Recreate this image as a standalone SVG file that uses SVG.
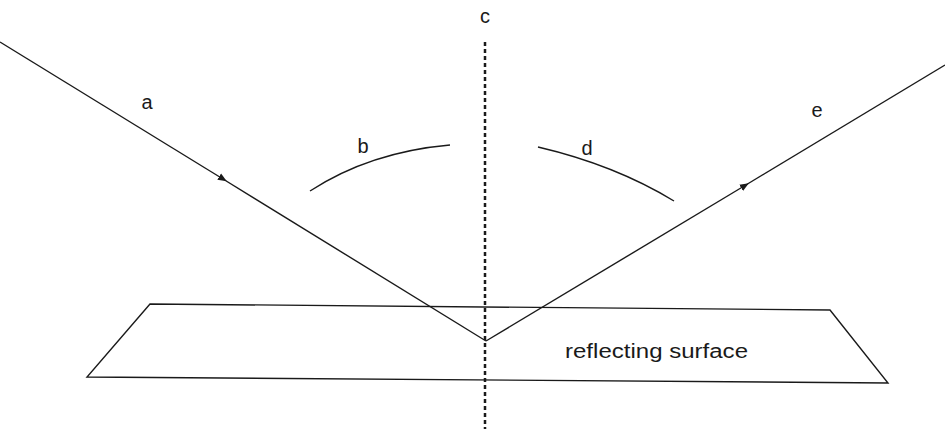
<svg xmlns="http://www.w3.org/2000/svg" width="945" height="429" viewBox="0 0 945 429">
<style>
.ln{stroke:#1a1a1a;stroke-width:1.4;fill:none}
.lb{font-family:"Liberation Sans",Arial,sans-serif;font-size:20px;fill:#1a1a1a}
</style>
<defs>
<marker id="ah" viewBox="0 0 10 10" refX="5" refY="5" markerWidth="9" markerHeight="9" orient="auto" markerUnits="userSpaceOnUse">
<path d="M0,1 L10,5 L0,9 Z" fill="#1a1a1a"/>
</marker>
</defs>
<rect width="945" height="429" fill="#fff"/>
<g id="surface">
<polygon class="ln" points="150,304 830,310 888,383 87,377"/>
<text class="lb" x="565" y="358" font-size="22" textLength="183" lengthAdjust="spacingAndGlyphs">reflecting surface</text>
</g>
<g id="connectors">
<path class="ln" d="M0,42 L223,179" marker-end="url(#ah)"/>
<path class="ln" d="M223,179 L486,341"/>
<path class="ln" d="M486,341 L745,185.5" marker-end="url(#ah)"/>
<path class="ln" d="M745,185.5 L945,65"/>
<line x1="485" y1="42" x2="485" y2="429" stroke="#1a1a1a" stroke-width="2.5" stroke-dasharray="4,3"/>
<path class="ln" d="M310,191 Q370,152 450,145"/>
<path class="ln" d="M538,147 Q615,165 674,201"/>
</g>
<g id="labels">
<text class="lb" x="147" y="109" text-anchor="middle">a</text>
<text class="lb" x="363" y="153" text-anchor="middle">b</text>
<text class="lb" x="485" y="23" text-anchor="middle">c</text>
<text class="lb" x="587" y="155" text-anchor="middle">d</text>
<text class="lb" x="817" y="117" text-anchor="middle">e</text>
</g>
</svg>
